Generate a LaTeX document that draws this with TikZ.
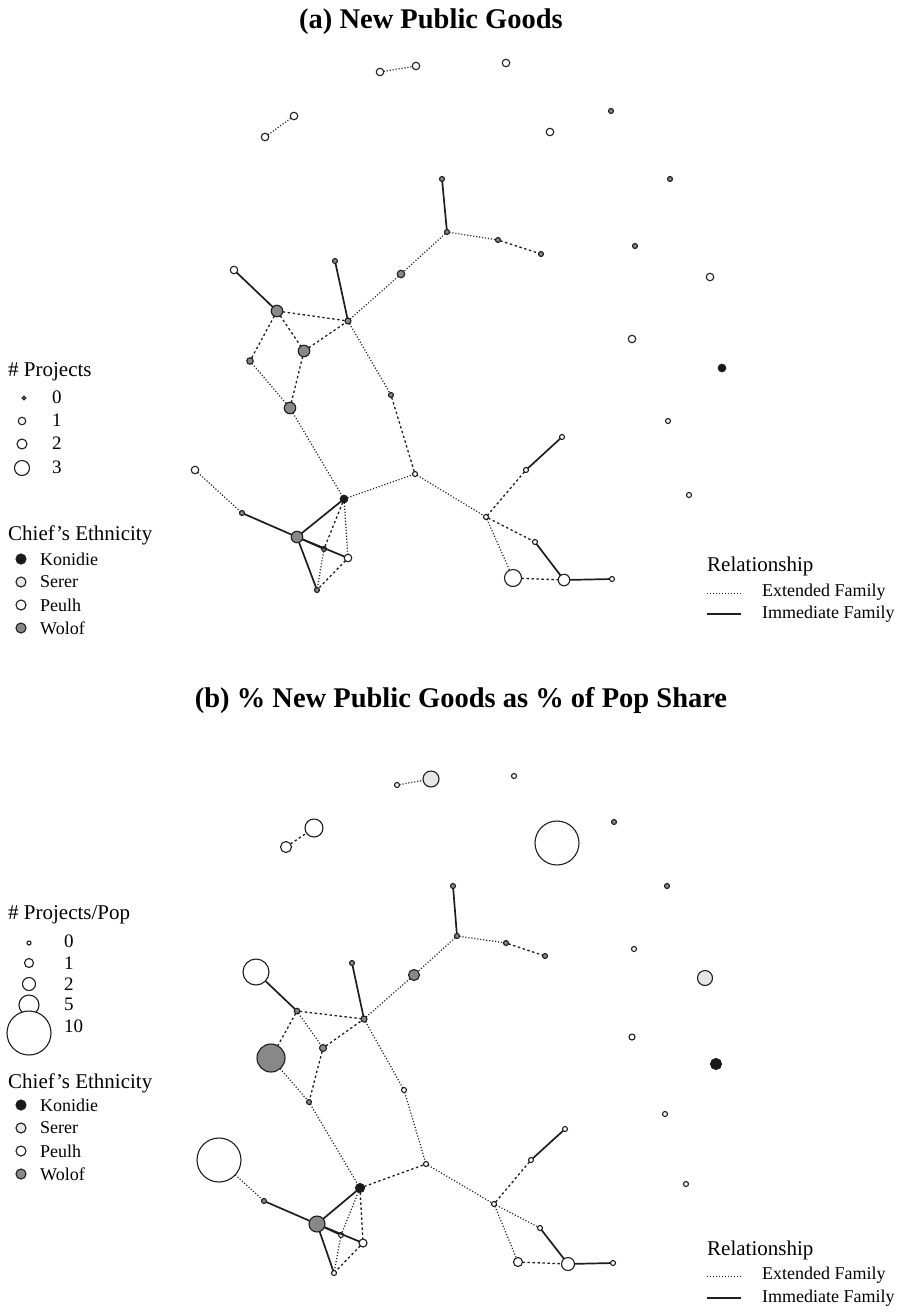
\documentclass[tikz,border=0pt]{standalone}
\usepackage{fontspec}
\setmainfont{Liberation Serif}
\definecolor{wol}{RGB}{136,136,136}
\definecolor{ser}{RGB}{230,230,230}
\definecolor{kon}{RGB}{25,25,25}
\definecolor{ln}{RGB}{30,30,30}
\tikzset{
 nd/.style={circle, inner sep=0pt, outer sep=0pt, draw=ln, line width=1.1pt},
 v0/.style={nd, minimum size=5pt},
 v1/.style={nd, minimum size=7.5pt},
 v2/.style={nd, minimum size=11.5pt},
 v3/.style={nd, minimum size=17pt},
 vs/.style={nd, minimum size=#1},
 fw/.style={fill=wol}, fs/.style={fill=ser}, fp/.style={fill=white}, fk/.style={fill=kon},
 imm/.style={draw=ln, line width=1.7pt},
 ext/.style={draw=ln, line width=1.2pt, dash pattern=on 1.1pt off 1.9pt},
 extd/.style={draw=ln, line width=1.3pt, dash pattern=on 2.4pt off 2.6pt},
 ttl/.style={font=\fontsize{28.5}{30}\selectfont\bfseries, inner sep=0pt},
 hd/.style={font=\fontsize{21}{24}\selectfont, anchor=west, inner sep=0pt},
 itm/.style={font=\fontsize{18}{20}\selectfont, anchor=west, inner sep=0pt},
 dg/.style={font=\fontsize{19}{20}\selectfont, anchor=west, inner sep=0pt},
}
\begin{document}
\begin{tikzpicture}[x=1pt,y=-1pt]
\fill[white] (0,0) rectangle (907,1315);
\useasboundingbox (0,0) rectangle (907,1315);

% ================= PANEL A =================
\node[ttl] (ta) at (431,22) {(a) New Public Goods};

% isolated / top nodes
\node[v1,fp] (a1) at (380,72) {};
\node[v1,fp] (a2) at (416,66) {};
\node[v1,fp] (a3) at (506,63) {};
\node[v1,fp] (a4) at (294,116) {};
\node[v1,fp] (a5) at (265,137) {};
\node[v1,fp] (a6) at (550,132) {};
\node[v0,fw] (a7) at (611,111) {};
\node[v0,fw] (a8) at (670,179) {};
\node[v0,fw] (a9) at (635,246) {};
\node[v1,fp] (a10) at (710,277) {};
\node[v1,fp] (a11) at (632,339) {};
\node[v1,fk] (a12) at (722,368) {};
\node[v0,fp] (a13) at (668,421) {};
\node[v0,fp] (a14) at (689,495) {};
\draw[ext] (a1) -- (a2);
\draw[ext] (a5) -- (a4);

% main network
\node[v0,fw] (b1) at (442,179) {};
\node[v0,fw] (b2) at (447,232) {};
\node[v0,fw] (b3) at (498,240) {};
\node[v0,fw] (b4) at (541,254) {};
\node[v1,fw] (b5) at (401,274) {};
\node[vs=6pt,fw] (h) at (348,321) {};
\node[v0,fw] (b6) at (335,261) {};
\node[v1,fp] (b7) at (234,270) {};
\node[v2,fw] (b8) at (277,311) {};
\node[v2,fw] (b9) at (304,351) {};
\node[vs=6.5pt,fw] (b10) at (250,361) {};
\node[v2,fw] (b11) at (290,408) {};
\node[v0,fw] (b12) at (391,395) {};
\node[v0,fp] (c1) at (415,474) {};
\node[v1,fk] (k) at (344,499) {};
\node[v1,fp] (c2) at (195,470) {};
\node[v0,fw] (c3) at (242,513) {};
\node[v2,fw] (g) at (297,537) {};
\node[v0,fw] (c4) at (324,549) {};
\node[v1,fp] (c5) at (348,558) {};
\node[v0,fw] (c6) at (317,590) {};
\node[v0,fp] (d1) at (562,437) {};
\node[v0,fp] (d2) at (526,470) {};
\node[v0,fp] (d3) at (486,517) {};
\node[v0,fp] (d4) at (535,542) {};
\node[v3,fp] (d5) at (513,578) {};
\node[v2,fp] (d6) at (564,580) {};
\node[v0,fp] (d7) at (612,579) {};

\draw[imm] (b1) -- (b2);
\draw[ext] (b2) -- (b3);
\draw[extd] (b3) -- (b4);
\draw[ext] (b2) -- (b5);
\draw[ext] (b5) -- (h);
\draw[imm] (b6) -- (h);
\draw[imm] (b7) -- (b8);
\draw[extd] (b8) -- (h);
\draw[extd] (b8) -- (b9);
\draw[extd] (b9) -- (h);
\draw[extd] (b8) -- (b10);
\draw[ext] (b10) -- (b11);
\draw[extd] (b9) -- (b11);
\draw[ext] (h) -- (b12);
\draw[extd] (b12) -- (c1);
\draw[ext] (b11) -- (k);
\draw[ext] (k) -- (c1);
\draw[ext] (c2) -- (c3);
\draw[imm] (c3) -- (g);
\draw[imm] (g) -- (k);
\draw[imm] (g) -- (c4);
\draw[imm] (g) -- (c5);
\draw[imm] (g) -- (c6);
\draw[extd] (k) -- (c4);
\draw[ext] (c4) -- (c6);
\draw[ext] (k) -- (c5);
\draw[extd] (c5) -- (c6);
\draw[imm] (d1) -- (d2);
\draw[extd] (d2) -- (d3);
\draw[ext] (c1) -- (d3);
\draw[extd] (d3) -- (d4);
\draw[ext] (d3) -- (d5);
\draw[imm] (d4) -- (d6);
\draw[extd] (d5) -- (d6);
\draw[imm] (d6) -- (d7);

% legend a: projects
\node[hd] (lpa) at (8,372) {\# Projects};
\node[vs=3.5pt,fp] (lpa0) at (24,398) {};
\node[v1,fp] (lpa1) at (22,421) {};
\node[vs=10pt,fp] (lpa2) at (22,444) {};
\node[vs=15pt,fp] (lpa3) at (22,468) {};
\node[dg] (tpa0) at (52,397) {0};
\node[dg] (tpa1) at (52,420) {1};
\node[dg] (tpa2) at (52,443) {2};
\node[dg] (tpa3) at (52,467) {3};
% legend a: ethnicity
\node[hd] (lea) at (8,535) {Chief’s Ethnicity};
\node[vs=10pt,fk] (lea1) at (21,559) {};
\node[vs=10pt,fs] (lea2) at (21,582) {};
\node[vs=10pt,fp] (lea3) at (21,605) {};
\node[vs=10pt,fw] (lea4) at (21,628) {};
\node[itm] (tea1) at (40,559) {Konidie};
\node[itm] (tea2) at (40,582) {Serer};
\node[itm] (tea3) at (40,605) {Peulh};
\node[itm] (tea4) at (40,628) {Wolof};
% legend a: relationship
\node[hd] (lra) at (707,566) {Relationship};
\coordinate (xa1) at (707,593);
\coordinate (xa2) at (741,593);
\coordinate (ia1) at (707,614);
\coordinate (ia2) at (741,614);
\draw[ext, line width=1pt] (xa1) -- (xa2);
\draw[imm] (ia1) -- (ia2);
\node[itm] (tra1) at (762,592) {Extended Family};
\node[itm] (tra2) at (762,614) {Immediate Family};

% ================= PANEL B =================
\node[ttl] (tb) at (461,700) {(b) \% New Public Goods as \% of Pop Share};

\node[v0,fp] (p1) at (397,785) {};
\node[vs=16pt,fs] (p2) at (431,779) {};
\node[v0,fp] (p3) at (514,776) {};
\node[vs=18pt,fp] (p4) at (314,828) {};
\node[vs=11pt,fp] (p5) at (286,847) {};
\node[vs=44pt,fp] (p6) at (557,843) {};
\node[v0,fw] (p7) at (614,822) {};
\node[v0,fw] (p8) at (667,886) {};
\node[v0,fp] (p9) at (634,949) {};
\node[vs=15pt,fs] (p10) at (705,978) {};
\node[vs=6pt,fp] (p11) at (632,1037) {};
\node[vs=11pt,fk] (p12) at (716,1064) {};
\node[v0,fp] (p13) at (665,1114) {};
\node[v0,fp] (p14) at (686,1184) {};
\draw[ext] (p1) -- (p2);
\draw[extd] (p5) -- (p4);

\node[v0,fw] (q1) at (453,886) {};
\node[v0,fw] (q2) at (457,936) {};
\node[v0,fw] (q3) at (506,943) {};
\node[v0,fw] (q4) at (545,956) {};
\node[vs=11pt,fw] (q5) at (414,975) {};
\node[vs=6pt,fw] (hb) at (364,1019) {};
\node[v0,fw] (q6) at (352,963) {};
\node[vs=26pt,fp] (q7) at (256,972) {};
\node[vs=5.5pt,fw] (q8) at (297,1011) {};
\node[vs=7pt,fw] (q9) at (323,1048) {};
\node[vs=28pt,fw] (q10) at (271,1058) {};
\node[v0,fw] (q11) at (309,1102) {};
\node[v0,fp] (q12) at (404,1090) {};
\node[v0,fp] (r1) at (426,1164) {};
\node[vs=9pt,fk] (kb) at (360,1188) {};
\node[vs=44pt,fp] (r2) at (219,1160) {};
\node[v0,fw] (r3) at (264,1201) {};
\node[vs=16pt,fw] (gb) at (317,1224) {};
\node[v0,fp] (r4) at (341,1235) {};
\node[vs=8pt,fp] (r5) at (363,1243) {};
\node[v0,fp] (r6) at (334,1273) {};
\node[v0,fp] (s1) at (565,1129) {};
\node[v0,fp] (s2) at (531,1160) {};
\node[v0,fp] (s3) at (494,1204) {};
\node[v0,fp] (s4) at (540,1228) {};
\node[vs=9pt,fp] (s5) at (518,1262) {};
\node[vs=13pt,fp] (s6) at (568,1264) {};
\node[v0,fp] (s7) at (613,1263) {};

\draw[imm] (q1) -- (q2);
\draw[ext] (q2) -- (q3);
\draw[extd] (q3) -- (q4);
\draw[ext] (q2) -- (q5);
\draw[ext] (q5) -- (hb);
\draw[imm] (q6) -- (hb);
\draw[imm] (q7) -- (q8);
\draw[extd] (q8) -- (hb);
\draw[ext] (q8) -- (q9);
\draw[extd] (q9) -- (hb);
\draw[extd] (q8) -- (q10);
\draw[ext] (q10) -- (q11);
\draw[extd] (q9) -- (q11);
\draw[ext] (hb) -- (q12);
\draw[ext] (q12) -- (r1);
\draw[ext] (q11) -- (kb);
\draw[extd] (kb) -- (r1);
\draw[ext] (r2) -- (r3);
\draw[imm] (r3) -- (gb);
\draw[imm] (gb) -- (kb);
\draw[imm] (gb) -- (r4);
\draw[imm] (gb) -- (r5);
\draw[imm] (gb) -- (r6);
\draw[ext] (kb) -- (r4);
\draw[ext] (r4) -- (r6);
\draw[extd] (kb) -- (r5);
\draw[extd] (r5) -- (r6);
\draw[imm] (s1) -- (s2);
\draw[extd] (s2) -- (s3);
\draw[ext] (r1) -- (s3);
\draw[ext] (s3) -- (s4);
\draw[ext] (s3) -- (s5);
\draw[imm] (s4) -- (s6);
\draw[extd] (s5) -- (s6);
\draw[imm] (s6) -- (s7);

% legend b: projects/pop
\node[hd] (lpb) at (8,915) {\# Projects/Pop};
\node[vs=4pt,fp] (lpb0) at (29,943) {};
\node[vs=9pt,fp] (lpb1) at (29,963) {};
\node[vs=13pt,fp] (lpb2) at (29,984) {};
\node[vs=20pt,fp] (lpb3) at (29,1005) {};
\node[vs=44pt,fp] (lpb4) at (29,1033) {};
\node[dg] (tpb0) at (64,941) {0};
\node[dg] (tpb1) at (64,963) {1};
\node[dg] (tpb2) at (64,984) {2};
\node[dg] (tpb3) at (64,1004) {5};
\node[dg] (tpb4) at (64,1026) {10};
% legend b: ethnicity
\node[hd] (leb) at (8,1083) {Chief’s Ethnicity};
\node[vs=10pt,fk] (leb1) at (21,1105) {};
\node[vs=10pt,fs] (leb2) at (21,1128) {};
\node[vs=10pt,fp] (leb3) at (21,1151) {};
\node[vs=10pt,fw] (leb4) at (21,1174) {};
\node[itm] (teb1) at (40,1105) {Konidie};
\node[itm] (teb2) at (40,1128) {Serer};
\node[itm] (teb3) at (40,1151) {Peulh};
\node[itm] (teb4) at (40,1174) {Wolof};
% legend b: relationship
\node[hd] (lrb) at (707,1250) {Relationship};
\coordinate (xb1) at (707,1276);
\coordinate (xb2) at (741,1276);
\coordinate (ib1) at (707,1298);
\coordinate (ib2) at (741,1298);
\draw[ext, line width=1pt] (xb1) -- (xb2);
\draw[imm] (ib1) -- (ib2);
\node[itm] (trb1) at (762,1275) {Extended Family};
\node[itm] (trb2) at (762,1298) {Immediate Family};
\end{tikzpicture}
\end{document}
